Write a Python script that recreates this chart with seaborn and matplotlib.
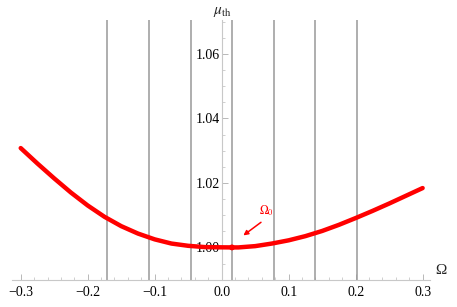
import matplotlib
matplotlib.use("Agg")
import matplotlib.pyplot as plt
import seaborn as sns
import pandas as pd
from matplotlib.ticker import MultipleLocator

# ---- data ----
omega = [-0.300, -0.275, -0.250, -0.225, -0.200, -0.175, -0.150, -0.125, -0.100,
         -0.075, -0.050, -0.025, 0.000, 0.0154, 0.025, 0.050, 0.075, 0.100,
         0.125, 0.150, 0.175, 0.200, 0.225, 0.250, 0.275, 0.300]
mu_th = [1.0308, 1.0260, 1.0214, 1.0170, 1.0130, 1.0095, 1.0066, 1.0043, 1.0025,
         1.0012, 1.0005, 1.0001, 1.00003, 1.0000, 1.0000, 1.0004, 1.0012, 1.0022,
         1.0035, 1.0051, 1.0070, 1.0091, 1.0113, 1.0136, 1.0160, 1.0184]
vlines_x = [-0.171, -0.1085, -0.0463, 0.0154, 0.078, 0.140, 0.2025]
omega0 = [0.0154]
mu0 = [1.0000]
xticks = [-0.3, -0.2, -0.1, 0.0, 0.1, 0.2, 0.3]
xtick_labels = ["\u22120.3", "\u22120.2", "\u22120.1", "0.0", "0.1", "0.2", "0.3"]
yticks = [1.00, 1.02, 1.04, 1.06]
ytick_labels = ["1.00", "1.02", "1.04", "1.06"]

df = pd.DataFrame({"omega": omega, "mu": mu_th})
dot = pd.DataFrame({"omega": omega0, "mu": mu0})

sns.set_style("white")
plt.rcParams["font.family"] = ["Liberation Serif", "DejaVu Serif"]
plt.rcParams["mathtext.fontset"] = "stix"

fig = plt.figure(figsize=(4.57, 3.07), dpi=100)
ax = fig.add_axes([12 / 457, 27 / 307, 418 / 457, 260 / 307])

for xv in vlines_x:
    ax.axvline(xv, color="#999999", lw=1.1, zorder=1)

sns.lineplot(data=df, x="omega", y="mu", color="#ff0000", lw=3.2, ax=ax,
             zorder=3, sort=False)
sns.scatterplot(data=dot, x="omega", y="mu", color="#ff0000", s=18,
                edgecolor="none", ax=ax, zorder=4)

ax.annotate("", xy=(0.029, 1.0032), xytext=(0.062, 1.0083),
            arrowprops=dict(arrowstyle="-|>", color="#ff0000", lw=1.1,
                            mutation_scale=7), zorder=5)
ax.text(0.067, 1.0113, r"$\Omega_0$", color="#ff0000", fontsize=8.5,
        ha="center", va="center")

ax.set_xlim(-0.313, 0.311)
ax.set_ylim(0.9899, 1.0705)

ax.set_xticks(xticks)
ax.set_xticklabels(xtick_labels)
ax.set_yticks(yticks)
ax.set_yticklabels(ytick_labels)
ax.xaxis.set_minor_locator(MultipleLocator(0.02))
ax.yaxis.set_minor_locator(MultipleLocator(0.005))

for s in ["top", "right"]:
    ax.spines[s].set_visible(False)
ax.spines["left"].set_position(("data", 0))
ax.spines["left"].set_color("#c8c8c8")
ax.spines["bottom"].set_color("#c8c8c8")
ax.spines["left"].set_linewidth(0.8)
ax.spines["bottom"].set_linewidth(0.8)

ax.tick_params(axis="both", which="both", bottom=True, left=True,
               top=False, right=False)
ax.tick_params(axis="both", which="major", direction="in", length=4,
               width=0.7, color="#b8b8b8", labelsize=10, labelcolor="black")
ax.tick_params(axis="both", which="minor", direction="in", length=2.2,
               width=0.6, color="#c8c8c8")
ax.tick_params(axis="x", which="major", pad=4)
ax.tick_params(axis="y", which="major", pad=1.5)

ax.set_xlabel("")
ax.set_ylabel("")
fig.text(441 / 457, 1 - 270 / 307, "\u03a9", fontsize=11, ha="center",
         va="center")
fig.text(222 / 457, 1 - 12 / 307, r"$\mu_{\rm th}$", fontsize=11,
         ha="center", va="center")

fig.savefig("out.png", dpi=100)
